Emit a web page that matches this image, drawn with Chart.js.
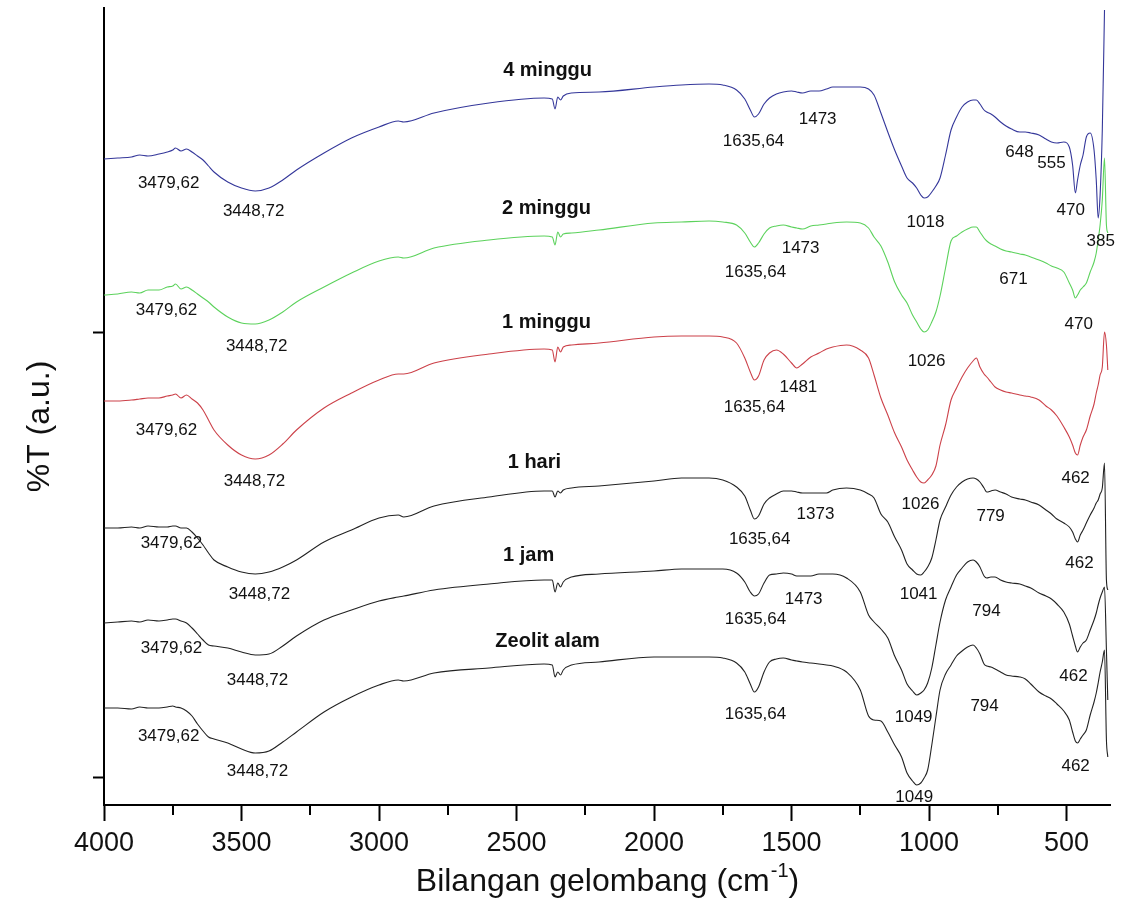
<!DOCTYPE html>
<html>
<head>
<meta charset="utf-8">
<script src="https://cdn.jsdelivr.net/npm/chart.js@4.4.0/dist/chart.umd.min.js"></script>
<style>
  body { margin: 0; background: #fff; }
</style>
</head>
<body>
<canvas id="spektrum" width="1125" height="921"></canvas>
<script>
// bilangan gelombang (cm-1), sama untuk semua spektrum
const bilangan = [
  4000, 3950, 3900, 3870, 3840, 3800, 3770, 3750, 3740, 3720,
  3700, 3680, 3660, 3640, 3620, 3600, 3550, 3500, 3450, 3400,
  3350, 3300, 3200, 3100, 3000, 2930, 2910, 2800, 2600, 2400,
  2370, 2360, 2350, 2340, 2330, 2300, 2200, 2000, 1900, 1800,
  1750, 1700, 1670, 1650, 1635, 1620, 1600, 1580, 1555, 1530,
  1500, 1481, 1460, 1430, 1400, 1373, 1350, 1300, 1250, 1220,
  1200, 1175, 1150, 1125, 1100, 1080, 1060, 1045, 1030, 1018,
  1005, 990, 975, 960, 940, 920, 900, 880, 860, 840,
  828, 815, 800, 790, 775, 760, 740, 720, 700, 670,
  650, 630, 600, 575, 555, 535, 510, 490, 478, 468,
  460, 450, 440, 428, 414, 400, 392, 385, 378, 370,
  362, 355, 350
];

// %T (a.u.), sudah digeser per spektrum
const t4minggu = [
  644, 645, 646, 648, 647, 649, 651, 653, 655, 652,
  654, 651, 647, 643, 637, 631, 621, 615, 612, 615,
  623, 633, 650, 665, 676, 682, 681, 690, 700, 705,
  704, 694, 706, 703, 707, 710, 711, 716, 718, 719,
  718, 713, 704, 693, 686, 689, 699, 705, 709, 711,
  712, 711, 710, 712, 712, 714, 716, 716, 716, 714,
  708, 690, 671, 653, 637, 625, 620, 615, 608, 605,
  606, 611, 617, 625, 648, 673, 686, 696, 701, 703,
  703, 699, 693, 691, 689, 686, 681, 677, 674, 671,
  671, 670, 668, 664, 661, 660, 661, 656, 638, 610,
  623, 638, 648, 666, 670, 653, 623, 585, 608, 673,
  793, null, null
];
const t2minggu = [
  508, 509, 511, 510, 513, 513, 516, 517, 519, 514,
  516, 513, 509, 505, 501, 496, 486, 480, 479, 483,
  491, 501, 516, 530, 542, 546, 545, 555, 563, 567,
  566, 558, 571, 566, 569, 570, 573, 580, 581, 582,
  581, 578, 570, 561, 556, 560, 569, 575, 577, 578,
  576, 575, 574, 577, 578, 579, 580, 581, 580, 575,
  566, 557, 541, 521, 508, 500, 488, 481, 474, 471,
  473, 481, 491, 507, 535, 562, 567, 571, 574, 576,
  576, 571, 565, 562, 559, 557, 554, 552, 551, 549,
  548, 546, 543, 540, 537, 535, 531, 520, 513, 505,
  508, 513, 516, 520, 531, 541, 550, 563, 578, 603,
  645, 578, 570
];
const t1minggu = [
  402, 402, 403, 404, 405, 405, 407, 408, 409, 405,
  408, 404, 400, 393, 383, 373, 358, 348, 344, 348,
  359, 373, 395, 410, 423, 429, 429, 440, 449, 454,
  453, 441, 456, 451, 456, 458, 460, 466, 467, 467,
  466, 460, 445, 431, 423, 427, 443, 450, 453, 449,
  440, 435, 439, 446, 450, 454, 456, 458, 453, 445,
  428, 405, 388, 370, 356, 343, 333, 326, 321, 320,
  323, 328, 337, 358, 378, 403, 415, 426, 435, 442,
  445, 436, 429, 426, 421, 416, 413, 411, 410, 408,
  407, 406, 403, 397, 393, 387, 376, 366, 358, 350,
  348, 358, 366, 373, 387, 399, 410, 418, 428, 436,
  471, 458, 433
];
const t1hari = [
  275, 275, 276, 275, 277, 276, 276, 277, 277, 275,
  275, 271, 265, 258, 250, 243, 236, 231, 229, 231,
  236, 243, 261, 273, 285, 288, 286, 297, 306, 312,
  312, 306, 312, 310, 313, 315, 317, 322, 325, 325,
  323, 316, 307, 293, 284, 287, 299, 305, 309, 312,
  312, 311, 310, 310, 310, 310, 313, 315, 313, 309,
  305, 289, 281, 266, 253, 239, 233, 229, 228, 231,
  236, 245, 263, 283, 296, 308, 316, 321, 324, 325,
  324, 321, 315, 311, 312, 313, 311, 309, 306, 304,
  303, 301, 298, 293, 289, 284, 280, 276, 271, 264,
  261, 268, 273, 280, 288, 295, 300, 303, 309, 315,
  340, 223, 213
];
const t1jam = [
  180, 181, 182, 181, 183, 182, 183, 184, 184, 182,
  180, 175, 169, 163, 158, 157, 155, 151, 148, 149,
  157, 167, 183, 193, 202, 206, 207, 213, 219, 223,
  223, 211, 220, 216, 221, 226, 229, 232, 234, 234,
  234, 230, 221, 211, 207, 209, 220, 228, 229, 230,
  229, 227, 227, 227, 229, 229, 229, 225, 211, 188,
  181, 174, 165, 147, 133, 119, 112, 108, 110, 113,
  120, 135, 158, 181, 203, 216, 228, 235, 241, 243,
  241, 236, 227, 225, 226, 226, 223, 221, 220, 219,
  217, 215, 210, 207, 204, 199, 191, 179, 167, 157,
  151, 156, 160, 163, 173, 183, 190, 198, 205, 211,
  216, 153, 103
];
const tZeolit = [
  95, 95, 94, 96, 95, 95, 96, 97, 96, 95,
  92, 87, 79, 72, 66, 64, 60, 54, 50, 52,
  61, 71, 91, 106, 118, 123, 122, 130, 135, 139,
  138, 126, 131, 128, 133, 138, 141, 146, 146, 146,
  145, 140, 131, 119, 111, 116, 131, 141, 144, 145,
  143, 142, 141, 140, 139, 138, 137, 131, 113, 87,
  83, 82, 71, 58, 46, 30, 22, 18, 20, 25,
  33, 58, 86, 113, 129, 138, 147, 152, 156, 158,
  155, 149, 139, 137, 136, 134, 131, 128, 127, 126,
  124, 119, 111, 107, 104, 99, 92, 83, 71, 62,
  60, 64, 68, 73, 88, 101, 110, 120, 131, 141,
  153, 63, 46
];

const tickMayor = [500, 1000, 1500, 2000, 2500, 3000, 3500, 4000];
const tickMinor = [750, 1250, 1750, 2250, 2750, 3250, 3750];
const tickY = [26, 471];

// [teks, bilangan gelombang, %T]
const labelSeri = [
  ['4 minggu', 2387, 733],
  ['2 minggu', 2391, 595],
  ['1 minggu', 2391, 481],
  ['1 hari', 2435, 341],
  ['1 jam', 2456, 248],
  ['Zeolit alam', 2387, 162]
];
const labelPuncak = [
  ['3479,62', 3765, 620], ['3448,72', 3456, 592], ['1635,64', 1638, 662], ['1473', 1405, 684],
  ['1018', 1013, 581], ['648', 671, 651], ['555', 555, 640], ['470', 485, 593], ['385', 376, 562],
  ['3479,62', 3773, 493], ['3448,72', 3445, 457], ['1635,64', 1631, 531], ['1473', 1467, 555],
  ['1026', 1009, 442], ['671', 693, 524], ['470', 456, 479],
  ['3479,62', 3773, 373], ['3448,72', 3453, 322], ['1635,64', 1635, 396], ['1481', 1475, 416],
  ['1026', 1031, 299], ['462', 467, 325],
  ['3479,62', 3755, 260], ['3448,72', 3435, 209], ['1635,64', 1616, 264], ['1373', 1413, 289],
  ['1041', 1038, 209], ['779', 776, 287], ['462', 453, 240],
  ['3479,62', 3755, 155], ['3448,72', 3442, 123], ['1635,64', 1631, 184], ['1473', 1456, 204],
  ['1049', 1056, 86], ['794', 791, 192], ['462', 475, 127],
  ['3479,62', 3765, 67], ['3448,72', 3442, 32], ['1635,64', 1631, 89], ['1049', 1054, 6],
  ['794', 798, 97], ['462', 467, 37]
];

const FONT = '"Liberation Sans", Arial, sans-serif';

function pasangan(serie) {
  return bilangan.map((x, i) => ({ x: x, y: serie[i] }));
}

// tick minor, label puncak dan judul sumbu
const tulisan = {
  id: 'tulisan',
  afterDraw(chart) {
    const c = chart.ctx;
    const sx = chart.scales.x;
    const sy = chart.scales.y;
    const area = chart.chartArea;
    c.save();

    c.strokeStyle = '#000';
    c.lineWidth = 2;
    tickMinor.forEach(v => {
      const px = Math.round(sx.getPixelForValue(v));
      c.beginPath();
      c.moveTo(px, area.bottom);
      c.lineTo(px, area.bottom + 10);
      c.stroke();
    });

    c.fillStyle = '#111';
    c.textAlign = 'center';
    c.textBaseline = 'middle';
    c.font = '17px ' + FONT;
    labelPuncak.forEach(([t, x, y]) => c.fillText(t, sx.getPixelForValue(x), sy.getPixelForValue(y)));
    c.font = 'bold 20px ' + FONT;
    labelSeri.forEach(([t, x, y]) => c.fillText(t, sx.getPixelForValue(x), sy.getPixelForValue(y)));

    // judul sumbu x dengan pangkat
    const utama = 'Bilangan gelombang (cm';
    const pangkat = '-1';
    const tutup = ')';
    c.textAlign = 'left';
    c.textBaseline = 'alphabetic';
    c.font = '32px ' + FONT;
    const w1 = c.measureText(utama).width;
    const w3 = c.measureText(tutup).width;
    c.font = '20px ' + FONT;
    const w2 = c.measureText(pangkat).width;
    const mulai = (area.left + area.right) / 2 - (w1 + w2 + w3) / 2;
    const dasar = chart.height - 30;
    c.font = '32px ' + FONT;
    c.fillText(utama, mulai, dasar);
    c.fillText(tutup, mulai + w1 + w2 + 1, dasar);
    c.font = '20px ' + FONT;
    c.fillText(pangkat, mulai + w1 + 1, dasar - 14);

    // judul sumbu y
    c.translate(40, (area.top + area.bottom) / 2 + 20);
    c.rotate(-Math.PI / 2);
    c.textAlign = 'center';
    c.textBaseline = 'middle';
    c.font = '32px ' + FONT;
    c.fillText('%T (a.u.)', 0, 0);

    c.restore();
  }
};

const ctx = document.getElementById('spektrum').getContext('2d');
new Chart(ctx, {
  type: 'line',
  data: {
    datasets: [
      { label: '4 minggu', data: pasangan(t4minggu), borderColor: '#34379a' },
      { label: '2 minggu', data: pasangan(t2minggu), borderColor: '#5cd25c' },
      { label: '1 minggu', data: pasangan(t1minggu), borderColor: '#cc4149' },
      { label: '1 hari', data: pasangan(t1hari), borderColor: '#222222' },
      { label: '1 jam', data: pasangan(t1jam), borderColor: '#222222' },
      { label: 'Zeolit alam', data: pasangan(tZeolit), borderColor: '#222222' }
    ]
  },
  options: {
    responsive: false,
    animation: false,
    layout: { padding: { top: 8, right: 15, left: 0, bottom: 0 } },
    elements: {
      point: { radius: 0 },
      line: { borderWidth: 1.1, cubicInterpolationMode: 'monotone', fill: false }
    },
    plugins: {
      legend: { display: false },
      tooltip: { enabled: false }
    },
    scales: {
      x: {
        type: 'linear',
        reverse: true,
        min: 342,
        max: 4000,
        afterBuildTicks: s => { s.ticks = tickMayor.map(v => ({ value: v })); },
        afterFit: s => { s.height = 116; },
        grid: { drawOnChartArea: false, drawTicks: true, tickLength: 16, tickWidth: 2, tickColor: '#000' },
        border: { display: true, color: '#000', width: 2 },
        ticks: {
          color: '#111',
          font: { family: 'Liberation Sans', size: 27 },
          padding: 6,
          maxRotation: 0,
          autoSkip: false,
          callback: v => String(v)
        }
      },
      y: {
        min: -2,
        max: 795,
        afterBuildTicks: s => { s.ticks = tickY.map(v => ({ value: v })); },
        afterFit: s => { s.width = 104; },
        grid: { drawOnChartArea: false, drawTicks: true, tickLength: 11, tickWidth: 2, tickColor: '#000' },
        border: { display: true, color: '#000', width: 2 },
        ticks: { display: false }
      }
    }
  },
  plugins: [tulisan]
});
</script>
</body>
</html>
